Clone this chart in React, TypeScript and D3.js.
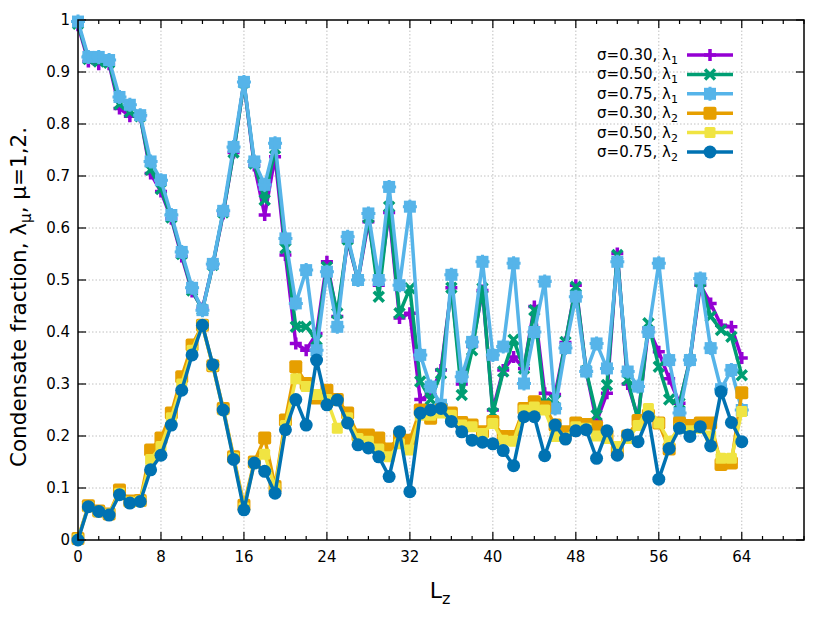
import React from 'react'
import * as d3 from 'd3'

// L_z = 0..64
const lz = d3.range(0, 65)

const s030l1 = [0.99, 0.92, 0.915, 0.915, 0.83, 0.815, 0.815, 0.705, 0.67, 0.618, 0.545, 0.478, 0.445, 0.529, 0.628, 0.745, 0.88, 0.72, 0.625, 0.737, 0.548, 0.378, 0.365, 0.397, 0.535, 0.43, 0.575, 0.5, 0.612, 0.49, 0.63, 0.427, 0.436, 0.27, 0.28, 0.327, 0.485, 0.3, 0.372, 0.48, 0.25, 0.327, 0.352, 0.33, 0.449, 0.282, 0.28, 0.38, 0.49, 0.325, 0.228, 0.282, 0.551, 0.3, 0.235, 0.407, 0.362, 0.31, 0.263, 0.346, 0.49, 0.455, 0.413, 0.41, 0.35]
const s050l1 = [0.993, 0.925, 0.92, 0.918, 0.838, 0.823, 0.815, 0.712, 0.675, 0.62, 0.55, 0.48, 0.443, 0.529, 0.63, 0.745, 0.88, 0.724, 0.654, 0.753, 0.561, 0.41, 0.41, 0.385, 0.525, 0.436, 0.578, 0.5, 0.62, 0.468, 0.641, 0.436, 0.484, 0.305, 0.27, 0.32, 0.485, 0.279, 0.365, 0.484, 0.244, 0.324, 0.385, 0.33, 0.442, 0.263, 0.269, 0.381, 0.487, 0.325, 0.24, 0.298, 0.548, 0.308, 0.231, 0.417, 0.333, 0.27, 0.263, 0.346, 0.497, 0.43, 0.404, 0.391, 0.317]
const s075l1 = [0.997, 0.929, 0.929, 0.923, 0.852, 0.837, 0.817, 0.728, 0.692, 0.625, 0.554, 0.485, 0.442, 0.531, 0.633, 0.756, 0.881, 0.728, 0.683, 0.763, 0.58, 0.455, 0.519, 0.365, 0.516, 0.41, 0.583, 0.5, 0.628, 0.5, 0.679, 0.49, 0.641, 0.356, 0.295, 0.26, 0.51, 0.314, 0.381, 0.535, 0.356, 0.372, 0.532, 0.301, 0.4, 0.497, 0.253, 0.369, 0.468, 0.324, 0.378, 0.33, 0.535, 0.324, 0.295, 0.4, 0.532, 0.346, 0.244, 0.346, 0.503, 0.369, 0.29, 0.327, 0.25]
const s030l2 = [0.003, 0.066, 0.056, 0.05, 0.096, 0.075, 0.076, 0.173, 0.196, 0.244, 0.314, 0.375, 0.413, 0.335, 0.253, 0.16, 0.067, 0.15, 0.196, 0.103, 0.231, 0.333, 0.301, 0.273, 0.288, 0.27, 0.244, 0.202, 0.202, 0.196, 0.175, 0.2, 0.192, 0.25, 0.234, 0.25, 0.244, 0.226, 0.221, 0.208, 0.228, 0.199, 0.199, 0.253, 0.266, 0.256, 0.221, 0.208, 0.225, 0.222, 0.218, 0.2, 0.17, 0.2, 0.23, 0.24, 0.225, 0.175, 0.225, 0.22, 0.225, 0.225, 0.145, 0.148, 0.283]
const s050l2 = [0.002, 0.064, 0.055, 0.05, 0.09, 0.073, 0.075, 0.155, 0.18, 0.235, 0.3, 0.365, 0.413, 0.335, 0.25, 0.158, 0.062, 0.148, 0.165, 0.1, 0.22, 0.31, 0.295, 0.28, 0.27, 0.215, 0.235, 0.195, 0.19, 0.175, 0.16, 0.185, 0.173, 0.24, 0.24, 0.244, 0.24, 0.221, 0.218, 0.205, 0.224, 0.192, 0.19, 0.25, 0.256, 0.25, 0.199, 0.196, 0.218, 0.215, 0.2, 0.195, 0.18, 0.195, 0.22, 0.253, 0.225, 0.19, 0.215, 0.21, 0.215, 0.2, 0.157, 0.157, 0.247]
const s075l2 = [0.0, 0.064, 0.055, 0.048, 0.087, 0.071, 0.074, 0.135, 0.163, 0.221, 0.288, 0.356, 0.413, 0.337, 0.25, 0.155, 0.058, 0.148, 0.132, 0.09, 0.212, 0.27, 0.221, 0.346, 0.26, 0.269, 0.225, 0.183, 0.177, 0.16, 0.122, 0.208, 0.093, 0.244, 0.25, 0.253, 0.228, 0.208, 0.192, 0.188, 0.185, 0.172, 0.143, 0.237, 0.237, 0.162, 0.221, 0.194, 0.21, 0.212, 0.157, 0.21, 0.163, 0.202, 0.189, 0.237, 0.117, 0.176, 0.215, 0.199, 0.218, 0.181, 0.285, 0.226, 0.189]

const xTicks = [0, 8, 16, 24, 32, 40, 48, 56, 64]
const yTicks = [0, 0.1, 0.2, 0.3, 0.4, 0.5, 0.6, 0.7, 0.8, 0.9, 1]

type Marker = 'plus' | 'cross' | 'star' | 'square' | 'smallsquare' | 'circle'
const series: { sigma: string; sub: string; values: number[]; color: string; marker: Marker }[] = [
  { sigma: '0.30', sub: '1', values: s030l1, color: '#9400d3', marker: 'plus' },
  { sigma: '0.50', sub: '1', values: s050l1, color: '#009e73', marker: 'cross' },
  { sigma: '0.75', sub: '1', values: s075l1, color: '#56b4e9', marker: 'star' },
  { sigma: '0.30', sub: '2', values: s030l2, color: '#e69f00', marker: 'square' },
  { sigma: '0.50', sub: '2', values: s050l2, color: '#f0e442', marker: 'smallsquare' },
  { sigma: '0.75', sub: '2', values: s075l2, color: '#0072b2', marker: 'circle' },
]

const W = 830
const H = 623
const m = { left: 78, right: 804, top: 20, bottom: 540 }
const font = 'DejaVu Sans, sans-serif'

function Mark({ type, x, y, color }: { type: Marker; x: number; y: number; color: string }) {
  const s = 6
  if (type === 'plus') return <path d={`M${x - s},${y}H${x + s}M${x},${y - s}V${y + s}`} stroke={color} strokeWidth={3.5} />
  if (type === 'cross') return <path d={`M${x - 5},${y - 5}L${x + 5},${y + 5}M${x - 5},${y + 5}L${x + 5},${y - 5}`} stroke={color} strokeWidth={3.5} />
  if (type === 'star') return <g>
    <rect x={x - 6} y={y - 6} width={12} height={12} fill={color} />
    <path d={`M${x - 7},${y}H${x + 7}M${x},${y - 7}V${y + 7}`} stroke={color} strokeWidth={3} />
  </g>
  if (type === 'square') return <rect x={x - 6.5} y={y - 6.5} width={13} height={13} rx={2} fill={color} />
  if (type === 'smallsquare') return <rect x={x - 5.5} y={y - 5.5} width={11} height={11} rx={1.5} fill={color} />
  return <circle cx={x} cy={y} r={6.5} fill={color} />
}

export default function App() {
  const x = d3.scaleLinear().domain([0, 70]).range([m.left, m.right])
  const y = d3.scaleLinear().domain([0, 1]).range([m.bottom, m.top])
  const line = d3.line<number>().x((_, i) => x(lz[i])).y(d => y(d))
  const minorX = d3.range(0, 71, 2).filter(v => v % 8 !== 0)

  return (
    <svg width={W} height={H} style={{ position: 'absolute', left: 0, top: 0, background: '#fff' }} fontFamily={font}>
      {/* grid */}
      <g stroke="#b0b0b0" strokeWidth={0.8} strokeDasharray="1.5,2">
        {xTicks.filter(t => t > 0).map(t => <line key={'gx' + t} x1={x(t)} x2={x(t)} y1={m.top} y2={m.bottom} />)}
        {yTicks.filter(t => t > 0 && t < 1).map(t => <line key={'gy' + t} x1={m.left} x2={m.right} y1={y(t)} y2={y(t)} />)}
      </g>
      {/* ticks */}
      <g stroke="#000" strokeWidth={1.2}>
        {xTicks.map(t => <g key={'tx' + t}>
          <line x1={x(t)} x2={x(t)} y1={m.bottom} y2={m.bottom - 8} />
          <line x1={x(t)} x2={x(t)} y1={m.top} y2={m.top + 8} />
        </g>)}
        {minorX.map(t => <g key={'mx' + t}>
          <line x1={x(t)} x2={x(t)} y1={m.bottom} y2={m.bottom - 4} />
          <line x1={x(t)} x2={x(t)} y1={m.top} y2={m.top + 4} />
        </g>)}
        {yTicks.map(t => <g key={'ty' + t}>
          <line x1={m.left} x2={m.left + 8} y1={y(t)} y2={y(t)} />
          <line x1={m.right} x2={m.right - 8} y1={y(t)} y2={y(t)} />
        </g>)}
      </g>
      {/* series */}
      {series.map((s, k) => (
        <g key={'s' + k}>
          <path d={line(s.values) ?? ''} fill="none" stroke={s.color} strokeWidth={3.5} strokeLinejoin="round" />
          {s.values.map((v, i) => <Mark key={i} type={s.marker} x={x(lz[i])} y={y(v)} color={s.color} />)}
        </g>
      ))}
      {/* frame */}
      <rect x={m.left} y={m.top} width={m.right - m.left} height={m.bottom - m.top} fill="none" stroke="#000" strokeWidth={1.5} />
      {/* tick labels */}
      <g fontSize={15} fill="#000">
        {xTicks.map(t => <text key={'lx' + t} x={x(t)} y={m.bottom + 22} textAnchor="middle">{t}</text>)}
        {yTicks.map(t => <text key={'ly' + t} x={m.left - 8} y={y(t) + 5} textAnchor="end">{String(t)}</text>)}
      </g>
      {/* axis titles */}
      <text x={m.left + 362} y={598} fontSize={22} textAnchor="middle">L<tspan fontSize={16} dy={6}>z</tspan></text>
      <text transform={`translate(26,${(m.top + m.bottom) / 2 + 17}) rotate(-90)`} fontSize={21.5} textAnchor="middle">
        Condensate fraction, λ<tspan fontSize={15} dy={5}>μ</tspan><tspan dy={-5}>, μ=1,2.</tspan>
      </text>
      {/* legend */}
      <g fontSize={15}>
        {series.map((s, k) => {
          const ly = 55 + k * 19.4
          return <g key={'lg' + k}>
            <text x={678} y={ly + 5} textAnchor="end">σ={s.sigma}, λ<tspan fontSize={11} dy={4}>{s.sub}</tspan></text>
            <line x1={687} x2={733} y1={ly} y2={ly} stroke={s.color} strokeWidth={3.5} />
            <Mark type={s.marker} x={710} y={ly} color={s.color} />
          </g>
        })}
      </g>
    </svg>
  )
}
